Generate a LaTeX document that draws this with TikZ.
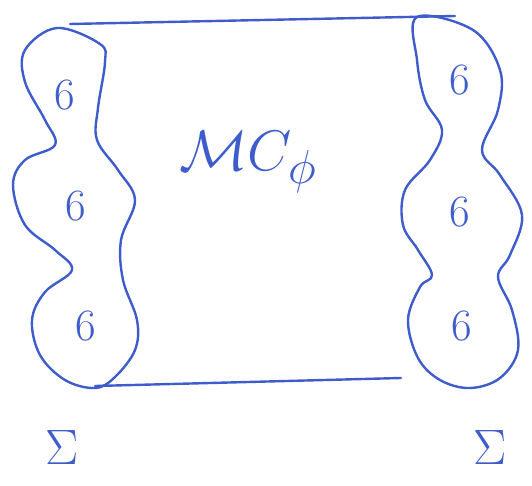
\documentclass[tikz,border=0pt]{standalone}
\usepackage{amsmath}
\definecolor{ink}{RGB}{62,92,204}
\begin{document}
\begin{tikzpicture}[x=1pt,y=-1pt,
  stroke/.style={draw=ink,line width=2.4pt,line cap=round,line join=round},
  mark6/.style={text=ink,font=\Huge,scale=1.8},
  sig/.style={text=ink,font=\Huge,scale=2.0}]
\useasboundingbox (0,0) rectangle (532,486);
% left blob
\draw[stroke] plot[smooth cycle,tension=0.6] coordinates {
 (57,28) (100,44) (105,62) (98,108) (97,140) (118,170) (135,200) (121,240)
 (123,280) (137,320) (135,350) (115,377) (95,388) (65,380) (40,355) (32,320)
 (45,292) (72,270) (55,250) (25,225) (13,185) (25,160) (55,145) (45,120)
 (25,82) (25,50)};
% right blob
\draw[stroke] plot[smooth cycle,tension=0.6] coordinates {
 (417,17) (473,30) (500,70) (498,110) (482,150) (500,175) (522,215) (510,255)
 (498,277) (512,310) (518,350) (500,378) (470,388) (440,380) (418,358) (408,320)
 (420,287) (432,275) (418,250) (403,225) (405,190) (430,160) (442,130) (425,100)
 (417,60)};
% top and bottom lines
\coordinate (tl) at (70,24);
\coordinate (tr) at (455,16);
\coordinate (bl) at (95,386);
\coordinate (br) at (401,378);
\draw[stroke] (tl) -- (tr);
\draw[stroke] (bl) -- (br);
% labels
\node[text=ink,font=\Huge,scale=2.3] (mc) at (248,162) {$\mathcal{M}C_{\phi}$};
\node[mark6] (l1) at (65,95) {6};
\node[mark6] (l2) at (76,206) {6};
\node[mark6] (l3) at (86,326) {6};
\node[mark6] (r1) at (460,80) {6};
\node[mark6] (r2) at (460,212) {6};
\node[mark6] (r3) at (462,326) {6};
\node[sig] (s1) at (62,447) {$\Sigma$};
\node[sig] (s2) at (490,447) {$\Sigma$};
\end{tikzpicture}
\end{document}
